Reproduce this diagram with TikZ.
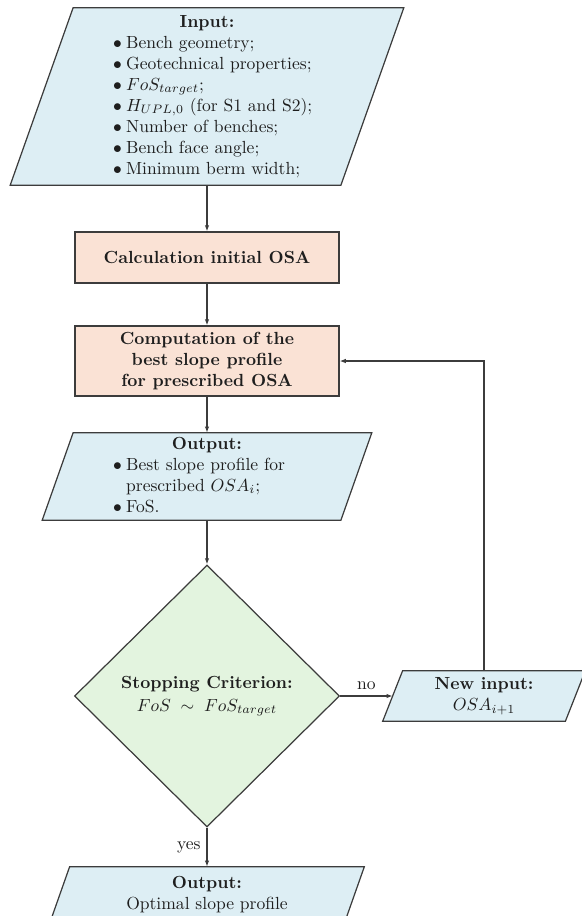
\documentclass[tikz,border=0pt]{standalone}
\usetikzlibrary{shapes.geometric,arrows.meta,backgrounds}
\definecolor{inblue}{HTML}{DDEEF4}
\definecolor{procor}{HTML}{FAE2D5}
\definecolor{decgr}{HTML}{E3F4DF}
\definecolor{edgecol}{HTML}{3C3C3C}
\definecolor{txtcol}{HTML}{1E1E1E}
\def\u{0.57pt}
\newcommand\bitem[1]{\mbox{\makebox[7.4pt][l]{$\bullet$}#1}}
\newcommand\drawpara[2]{\draw[paraedge] ([xshift=#2*\u]#1.north west) -- ([xshift=#2*\u]#1.north east) -- ([xshift=-#2*\u]#1.south east) -- ([xshift=-#2*\u]#1.south west) -- cycle;}
\begin{document}
\begin{tikzpicture}[x=0.57pt,y=-0.57pt,
  every node/.style={text=txtcol},
  procbox/.style={draw=edgecol, fill=procor, line width=0.7pt, minimum width=264*\u, inner sep=0pt, align=center, font=\bfseries},
  para/.style={inner sep=0pt, align=center},
  paraedge/.style={draw=edgecol, fill=inblue, line width=0.7pt},
  decbox/.style={diamond, draw=edgecol, fill=decgr, line width=0.7pt, inner sep=0pt, minimum width=265*\u, minimum height=262*\u, align=center},
  arr/.style={draw=edgecol, line width=0.7pt, -{Latex[length=3.5pt,width=2.6pt]}}]
\useasboundingbox (0,0) rectangle (582,916);

\node[para, minimum width=330*\u, minimum height=177*\u] (in) at (207,96.5) {%
\begin{tabular}{@{}p{107pt}@{}}
\multicolumn{1}{c}{\textbf{Input:}}\\
\bitem{Bench geometry;}\\
\bitem{Geotechnical properties;}\\
\bitem{$FoS_{target}$;}\\
\bitem{$H_{UPL,0}$ (for S1 and S2);}\\
\bitem{Number of benches;}\\
\bitem{Bench face angle;}\\
\bitem{Minimum berm width;}
\end{tabular}};

\node[procbox, minimum height=51*\u] (calc) at (207,257.5) {Calculation initial OSA};

\node[procbox, minimum height=70*\u] (comp) at (207,361) {Computation of the\\best slope profile\\for prescribed OSA};

\node[para, minimum width=298*\u, minimum height=87*\u] (out1) at (207,476.5) {%
\begin{tabular}{@{}p{107pt}@{}}
\multicolumn{1}{c}{\textbf{Output:}}\\
\bitem{Best slope profile for}\\
\mbox{\hspace*{7.4pt}prescribed $OSA_i$;}\\
\bitem{FoS.}
\end{tabular}};

\node[decbox] (dec) at (207,696) {\textbf{Stopping Criterion:}\\[1pt] $FoS \;\sim\; FoS_{target}$};

\node[para, minimum width=182*\u, minimum height=50*\u] (newin) at (484,696) {\textbf{New input:}\\ $OSA_{i+1}$};

\node[para, minimum width=294*\u, minimum height=56*\u] (final) at (207,895) {\textbf{Output:}\\ Optimal slope profile};

\begin{scope}[on background layer]
\drawpara{in}{31.5}
\drawpara{out1}{15.5}
\drawpara{newin}{10}
\drawpara{final}{10}
\end{scope}

\draw[arr] (in.south) -- (calc.north);
\draw[arr] (calc.south) -- (comp.north);
\draw[arr] (comp.south) -- (out1.north);
\draw[arr] (out1.south) -- (dec.north);
\draw[arr] (dec.east) -- node[above] {no} (newin.west);
\draw[arr] (newin.north) |- (comp.east);
\draw[arr] (dec.south) -- node[left] {yes} (final.north);
\end{tikzpicture}
\end{document}
